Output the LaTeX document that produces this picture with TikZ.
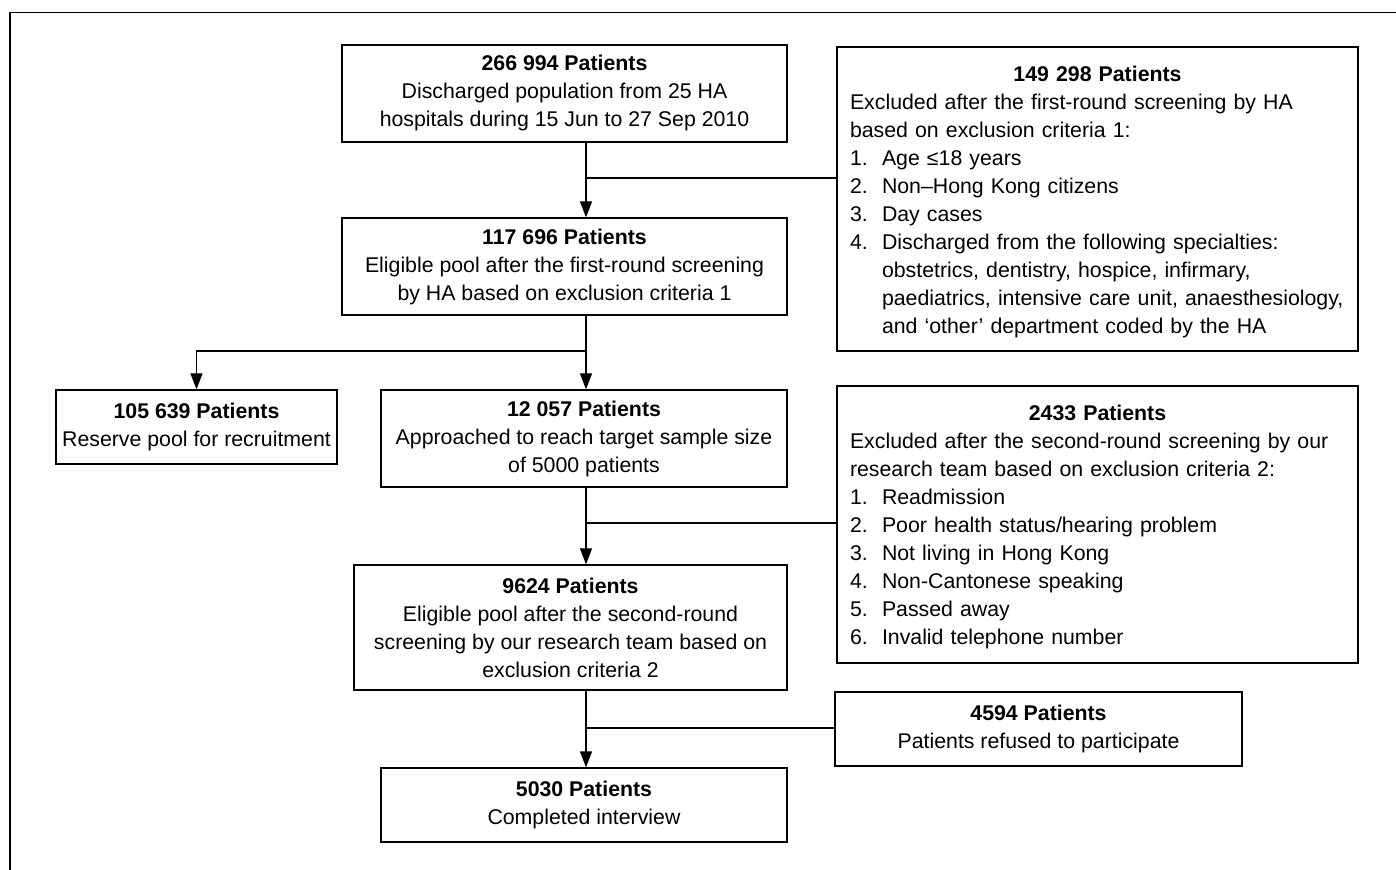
\documentclass[tikz,border=0pt]{standalone}
\usepackage{fontspec}
\setmainfont{Liberation Sans}
\usetikzlibrary{arrows.meta}
\newcommand{\itm}[1]{\makebox[16pt][l]{#1}}
\newcommand{\hang}[1]{\mbox{\hspace*{16pt}#1}}
\begin{document}
\begin{tikzpicture}[x=0.5pt,y=-0.5pt,
  box/.style={draw, line width=0.65pt, inner sep=0pt, align=center,
    font=\fontsize{10.65pt}{14pt}\selectfont,
    execute at begin node={\rule{0pt}{10.5pt}}},
  lbox/.style={box, align=left, text width=247.5pt},
  link/.style={line width=0.65pt},
  arr/.style={link, -{Triangle[length=8pt,width=6pt]}}]
\useasboundingbox (0,0) rectangle (1396,870);
% frame
\draw[link] (10,870) -- (10,12.5) -- (1396,12.5);

% main column
\node[box, minimum width=222.5pt, minimum height=48.5pt] (b1) at (564.5,93.5)
  {\textbf{266 994 Patients}\\Discharged population from 25 HA\\hospitals during 15 Jun to 27 Sep 2010};
\node[box, minimum width=222.5pt, minimum height=48.5pt] (b2) at (564.5,266.5)
  {\textbf{117 696 Patients}\\Eligible pool after the first-round screening\\by HA based on exclusion criteria 1};
\node[box, minimum width=140.5pt, minimum height=37pt] (r) at (196.5,427)
  {\textbf{105 639 Patients}\\Reserve pool for recruitment};
\node[box, minimum width=203pt, minimum height=48.5pt] (b3) at (584,438.5)
  {\textbf{12 057 Patients}\\Approached to reach target sample size\\of 5000 patients};
\node[box, minimum width=216.5pt, minimum height=62.5pt] (b4) at (570.5,627.5)
  {\textbf{9624 Patients}\\Eligible pool after the second-round\\screening by our research team based on\\exclusion criteria 2};
\node[box, minimum width=203pt, minimum height=37pt] (b5) at (584,805)
  {\textbf{5030 Patients}\\Completed interview};

% exclusion boxes
\node[lbox, minimum width=260.5pt, minimum height=152pt] (e1) at (1097.5,199)
  {\makebox[\linewidth][c]{\textbf{149 298 Patients}}\\
   \mbox{Excluded after the first-round screening by HA}\\
   based on exclusion criteria 1:\\
   \itm{1.}Age ≤18 years\\
   \itm{2.}Non–Hong Kong citizens\\
   \itm{3.}Day cases\\
   \itm{4.}\mbox{Discharged from the following specialties:}\\
   \hang{obstetrics, dentistry, hospice, infirmary,}\\
   \hang{paediatrics, intensive care unit, anaesthesiology,}\\
   \hang{and ‘other’ department coded by the HA}};
\node[lbox, minimum width=260.5pt, minimum height=138.5pt] (e2) at (1097.5,524.5)
  {\makebox[\linewidth][c]{\textbf{2433 Patients}}\\
   \mbox{Excluded after the second-round screening by our}\\
   research team based on exclusion criteria 2:\\
   \itm{1.}Readmission\\
   \itm{2.}Poor health status/hearing problem\\
   \itm{3.}Not living in Hong Kong\\
   \itm{4.}Non-Cantonese speaking\\
   \itm{5.}Passed away\\
   \itm{6.}Invalid telephone number};
\node[box, minimum width=203.5pt, minimum height=37pt] (e3) at (1038.5,729)
  {\textbf{4594 Patients}\\Patients refused to participate};

% connectors
\coordinate (col) at (586,0);
\coordinate (j1) at (586,178);
\coordinate (j2) at (586,351);
\coordinate (j3) at (586,523);
\coordinate (j4) at (586,728);

\draw[arr] (b1.south -| col) -- (b2.north -| col);
\draw[link] (j1) -- (e1.west |- j1);
\draw[arr] (b2.south -| col) -- (b3.north -| col);
\draw[arr] (j2) -| (r.north);
\draw[arr] (b3.south -| col) -- (b4.north -| col);
\draw[link] (j3) -- (e2.west |- j3);
\draw[arr] (b4.south -| col) -- (b5.north -| col);
\draw[link] (j4) -- (e3.west |- j4);
\end{tikzpicture}
\end{document}
